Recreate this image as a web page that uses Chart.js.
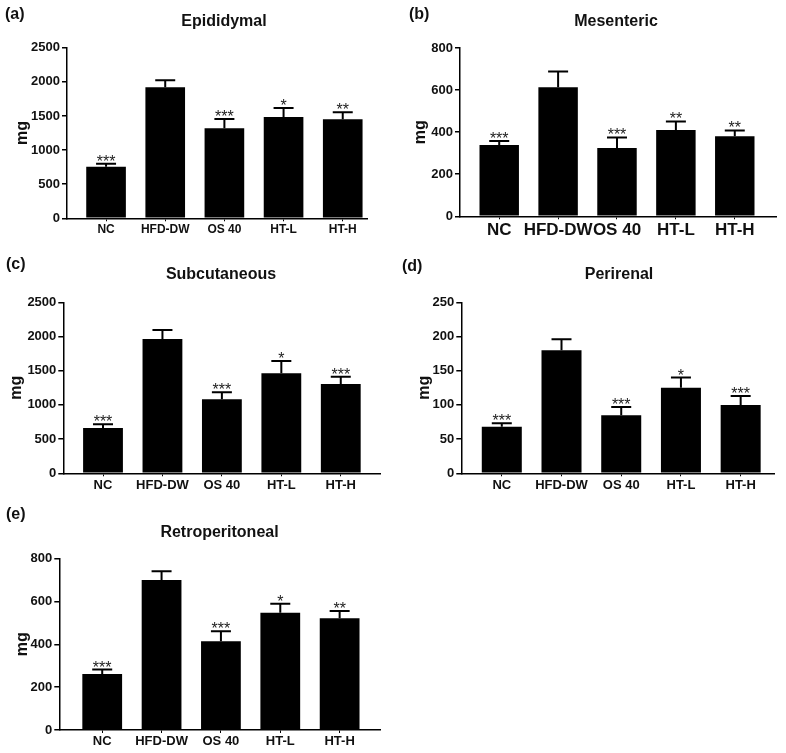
<!DOCTYPE html>
<html>
<head>
<meta charset="utf-8">
<script src="https://cdn.jsdelivr.net/npm/chart.js@4.4.0/dist/chart.umd.min.js"></script>
<style>
  html, body { margin: 0; padding: 0; background: #fff; }
  #wrap { position: relative; width: 786px; height: 753px; overflow: hidden; }
  canvas { position: absolute; }
</style>
</head>
<body>
<div id="wrap">
  <canvas id="cA" width="393" height="250" style="left:0;top:0"></canvas>
  <canvas id="cB" width="393" height="250" style="left:393px;top:0"></canvas>
  <canvas id="cC" width="393" height="250" style="left:0;top:250px"></canvas>
  <canvas id="cD" width="393" height="250" style="left:393px;top:250px"></canvas>
  <canvas id="cE" width="393" height="253" style="left:0;top:500px"></canvas>
</div>
<script>
/* ==================== 数据 ==================== */
const groups = ['NC', 'HFD-DW', 'OS 40', 'HT-L', 'HT-H'];

// (a) Epididymal
const epididymalMean = [756, 1920, 1319, 1484, 1451];
const epididymalSem  = [44, 102, 136, 132, 102];
const epididymalSig  = ['***', '', '***', '*', '**'];
const epididymalTicks = [0, 500, 1000, 1500, 2000, 2500];

// (b) Mesenteric
const mesentericMean = [339, 614, 325, 410, 380];
const mesentericSem  = [19, 74, 50, 41, 28];
const mesentericSig  = ['***', '', '***', '**', '**'];
const mesentericTicks = [0, 200, 400, 600, 800];

// (c) Subcutaneous
const subcutaneousMean = [662, 1963, 1082, 1462, 1306];
const subcutaneousSem  = [54, 132, 102, 180, 106];
const subcutaneousSig  = ['***', '', '***', '*', '***'];
const subcutaneousTicks = [0, 500, 1000, 1500, 2000, 2500];

// (d) Perirenal
const perirenalMean = [68, 180, 85, 125, 100];
const perirenalSem  = [5, 16, 12, 15, 13];
const perirenalSig  = ['***', '', '***', '*', '***'];
const perirenalTicks = [0, 50, 100, 150, 200, 250];

// (e) Retroperitoneal
const retroMean = [262, 700, 414, 548, 522];
const retroSem  = [20, 41, 47, 42, 34];
const retroSig  = ['***', '', '***', '*', '**'];
const retroTicks = [0, 200, 400, 600, 800];

const FONT = "'Liberation Sans', Arial, sans-serif";

/* ==================== 误差线 + 星号 + 标题 插件 ==================== */
const panelDecor = {
    id: 'panelDecor',
    afterDatasetsDraw(chart) {
        const p = chart.options.plugins.panelDecor;
        const ctx = chart.ctx;
        const meta = chart.getDatasetMeta(0);
        const yScale = chart.scales.y;
        ctx.save();
        ctx.strokeStyle = '#000';
        ctx.lineWidth = 2;
        meta.data.forEach((bar, i) => {
            const top = yScale.getPixelForValue(p.mean[i] + p.sem[i]);
            ctx.beginPath();
            ctx.moveTo(bar.x, bar.y);
            ctx.lineTo(bar.x, top);
            ctx.moveTo(bar.x - 10, top);
            ctx.lineTo(bar.x + 10, top);
            ctx.stroke();
            if (p.sig[i]) {
                ctx.fillStyle = '#222';
                ctx.font = 'normal 16px ' + FONT;
                ctx.textAlign = 'center';
                ctx.textBaseline = 'alphabetic';
                ctx.fillText(p.sig[i], bar.x, top + 3);
            }
        });
        ctx.restore();
    },
    afterDraw(chart) {
        const p = chart.options.plugins.panelDecor;
        const ctx = chart.ctx;
        ctx.save();
        ctx.fillStyle = '#111';
        ctx.textBaseline = 'middle';
        ctx.font = 'bold 16px ' + FONT;
        ctx.textAlign = 'left';
        ctx.fillText(p.label, p.labelX, p.labelY);
        ctx.textAlign = 'center';
        ctx.fillText(p.title, p.titleX, p.titleY);
        ctx.restore();
    }
};

/* ==================== 创建单个面板 ==================== */
function makePanel(id, mean, sem, sig, ticks, L) {
    const cv = document.getElementById(id);
    const H = cv.height, W = cv.width;
    const XH = 28;  // x 轴高度
    new Chart(cv, {
        type: 'bar',
        data: {
            datasets: [{
                data: mean.map((v, i) => ({ x: i, y: v })),
                backgroundColor: '#000',
                borderWidth: 0,
                categoryPercentage: 1,
                barPercentage: 0.67
            }]
        },
        options: {
            responsive: false,
            animation: false,
            layout: {
                padding: { left: 0, top: L.top, right: W - L.right, bottom: H - L.bottom - XH }
            },
            plugins: {
                legend: { display: false },
                tooltip: { enabled: false },
                panelDecor: {
                    mean: mean, sem: sem, sig: sig,
                    label: L.label, labelX: L.labelX, labelY: L.labelY,
                    title: L.title, titleX: L.titleX, titleY: L.titleY
                }
            },
            scales: {
                x: {
                    type: 'linear',
                    min: L.xmin, max: L.xmax,
                    offset: false,
                    afterBuildTicks: (s) => { s.ticks = groups.map((g, i) => ({ value: i })); },
                    afterFit: (s) => { s.height = XH; },
                    grid: { display: true, drawOnChartArea: false, drawTicks: true, tickLength: 3, color: '#000', lineWidth: 1, offset: false },
                    border: { display: true, color: '#000', width: 1.5 },
                    ticks: {
                        autoSkip: false, maxRotation: 0, padding: 1,
                        color: '#111',
                        font: { family: FONT, size: L.xFont, weight: 'bold' },
                        callback: (v) => groups[v]
                    }
                },
                y: {
                    min: ticks[0], max: ticks[ticks.length - 1],
                    afterBuildTicks: (s) => { s.ticks = ticks.map(v => ({ value: v })); },
                    afterFit: (s) => { s.width = L.left; },
                    grid: { display: true, drawOnChartArea: false, drawTicks: true, tickLength: 5, color: '#000', lineWidth: 1.5 },
                    border: { display: true, color: '#000', width: 1.5 },
                    ticks: {
                        padding: 2, color: '#111',
                        font: { family: FONT, size: 13, weight: 'bold' },
                        callback: (v) => String(v)
                    },
                    title: {
                        display: true, text: 'mg', color: '#111',
                        padding: { top: L.mgPad, bottom: 0 },
                        font: { family: FONT, size: 16, weight: 'bold' }
                    }
                }
            }
        },
        plugins: [panelDecor]
    });
}

makePanel('cA', epididymalMean, epididymalSem, epididymalSig, epididymalTicks, {
    left: 67, top: 47.7, right: 367, bottom: 218.3, xmin: -0.66, xmax: 4.41, xFont: 12, mgPad: 13,
    label: '(a)', labelX: 5, labelY: 15, title: 'Epididymal', titleX: 224, titleY: 22
});
makePanel('cB', mesentericMean, mesentericSem, mesentericSig, mesentericTicks, {
    left: 67, top: 48, right: 383, bottom: 216.3, xmin: -0.666, xmax: 4.70, xFont: 17, mgPad: 18,
    label: '(b)', labelX: 16, labelY: 15, title: 'Mesenteric', titleX: 223, titleY: 22
});
makePanel('cC', subcutaneousMean, subcutaneousSem, subcutaneousSig, subcutaneousTicks, {
    left: 63.3, top: 52.3, right: 380, bottom: 223.3, xmin: -0.668, xmax: 4.66, xFont: 13, mgPad: 7,
    label: '(c)', labelX: 6, labelY: 15, title: 'Subcutaneous', titleX: 221, titleY: 25
});
makePanel('cD', perirenalMean, perirenalSem, perirenalSig, perirenalTicks, {
    left: 68.3, top: 52.3, right: 381.7, bottom: 223.3, xmin: -0.678, xmax: 4.57, xFont: 13, mgPad: 22,
    label: '(d)', labelX: 9, labelY: 16.5, title: 'Perirenal', titleX: 226, titleY: 25
});
makePanel('cE', retroMean, retroSem, retroSig, retroTicks, {
    left: 59.3, top: 58.7, right: 380, bottom: 230, xmin: -0.723, xmax: 4.68, xFont: 13, mgPad: 13,
    label: '(e)', labelX: 6, labelY: 15, title: 'Retroperitoneal', titleX: 219.5, titleY: 33
});
</script>
</body>
</html>
